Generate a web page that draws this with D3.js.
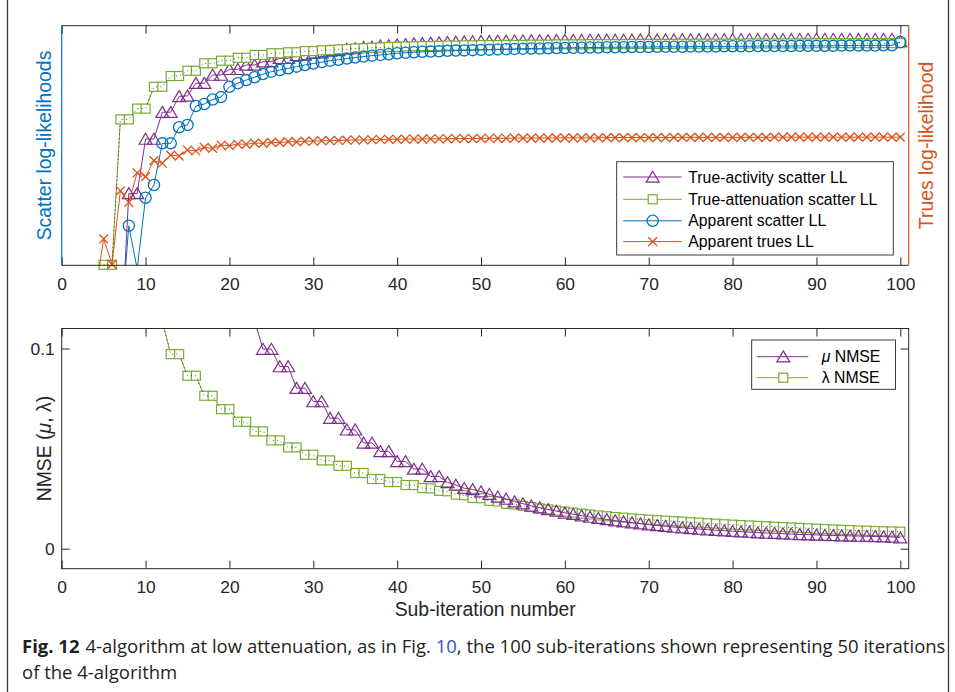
<!DOCTYPE html>
<html><head><meta charset="utf-8">
<script src="https://cdn.jsdelivr.net/npm/d3@7"></script>
<style>body{margin:0;background:#fff}</style>
</head><body>
<svg id="c" width="955" height="692"></svg>
<script>
// ---------- data ----------
const iterations = d3.range(1, 101);            // sub-iteration numbers 1..100
const xTicks = [0,10,20,30,40,50,60,70,80,90,100];
const xTickLabels = ["0","10","20","30","40","50","60","70","80","90","100"];
const nmseTicks = [0, 0.1];
const nmseTickLabels = ["0", "0.1"];

const topSeriesNames = ["True-activity scatter LL","True-attenuation scatter LL","Apparent scatter LL","Apparent trues LL"];
const bottomSeriesNames = ["\u03BC NMSE","\u03BB NMSE"];

// scatter log-likelihoods (relative units, axis has no tick labels)
const activityLL = [
 null,null,null,null,null,null,-37,30.0,30.0,52.7,
 52.7,63.9,63.9,70.5,70.7,76.0,76.0,79.4,79.4,81.8,
 81.8,83.6,83.6,85.0,85.0,86.4,86.4,87.6,87.8,88.5,
 88.7,89.5,89.7,90.3,90.5,91.0,91.1,91.6,91.7,92.1,
 92.2,92.5,92.6,92.8,92.9,93.1,93.2,93.3,93.4,93.5,
 93.5,93.6,93.6,93.7,93.7,93.8,93.8,93.8,93.9,93.9,
 93.9,93.9,94.0,94.0,94.0,94.0,94.0,94.1,94.1,94.1,
 94.1,94.1,94.1,94.2,94.2,94.2,94.2,94.2,94.2,94.2,
 94.3,94.3,94.3,94.3,94.3,94.3,94.3,94.3,94.4,94.4,
 94.4,94.4,94.4,94.4,94.4,94.4,94.4,94.4,94.4,93.4];
const attenuationLL = [
 null,null,null,null,0.2,0.2,60.9,60.9,65.4,65.4,
 74.5,74.5,79.0,79.0,81.2,81.2,84.3,84.3,85.4,85.4,
 86.6,86.6,87.8,87.8,88.5,88.5,88.9,88.9,89.4,89.4,
 89.7,89.8,90.1,90.2,90.5,90.6,90.8,90.9,91.1,91.2,
 91.3,91.4,91.5,91.5,91.6,91.7,91.7,91.8,91.8,91.9,
 91.9,91.9,92.0,92.0,92.0,92.1,92.1,92.1,92.2,92.2,
 92.2,92.2,92.3,92.3,92.3,92.3,92.3,92.4,92.4,92.4,
 92.4,92.4,92.4,92.5,92.5,92.5,92.5,92.5,92.5,92.5,
 92.5,92.6,92.6,92.6,92.6,92.6,92.6,92.6,92.6,92.7,
 92.7,92.7,92.7,92.7,92.7,92.7,92.7,92.7,92.7,92.7];
const apparentLL = [
 null,null,null,null,null,null,-28.6,16.5,-1.5,28.2,
 33.5,50.9,50.9,57.6,58.6,66.5,67.3,69.2,70.2,74.5,
 76.0,77.3,78.5,79.8,80.8,81.5,82.2,82.9,83.6,84.2,
 84.8,85.4,85.8,86.3,86.7,87.1,87.5,87.8,88.1,88.5,
 88.7,88.9,89.1,89.2,89.3,89.5,89.6,89.7,89.8,89.9,
 90.0,90.1,90.2,90.3,90.4,90.5,90.5,90.6,90.7,90.7,
 90.8,90.8,90.9,90.9,91.0,91.0,91.0,91.1,91.1,91.1,
 91.2,91.2,91.2,91.2,91.3,91.3,91.3,91.3,91.4,91.4,
 91.4,91.4,91.5,91.5,91.5,91.5,91.5,91.6,91.6,91.6,
 91.6,91.6,91.7,91.7,91.7,91.7,91.7,91.8,91.8,93.2];
// trues log-likelihood (right axis, relative units)
const truesLL = [
 null,null,null,-12,11.0,0.4,31.1,26.3,38.6,37.0,
 43.7,42.6,46.0,45.6,48.1,47.7,49.2,48.8,50.2,49.9,
 50.6,50.5,51.0,50.9,51.3,51.2,51.6,51.5,51.8,51.8,
 52.0,52.0,52.1,52.2,52.3,52.3,52.4,52.5,52.6,52.6,
 52.7,52.7,52.7,52.8,52.8,52.8,52.9,52.9,52.9,53.0,
 53.0,53.0,53.0,53.1,53.1,53.1,53.1,53.1,53.2,53.2,
 53.2,53.2,53.2,53.2,53.3,53.3,53.3,53.3,53.3,53.3,
 53.3,53.3,53.4,53.4,53.4,53.4,53.4,53.4,53.4,53.4,
 53.4,53.4,53.4,53.4,53.5,53.5,53.5,53.5,53.5,53.5,
 53.5,53.5,53.5,53.5,53.5,53.5,53.5,53.5,53.5,53.5];
// NMSE
const muNMSE = [
 null,null,null,null,null,null,null,null,null,null,
 null,null,null,null,null,null,null,null,null,0.125,
 0.125,0.114,0.114,0.0997,0.0997,0.0910,0.0910,0.0802,0.0802,0.0735,
 0.0735,0.0652,0.0652,0.0594,0.0594,0.0528,0.0528,0.0486,0.0486,0.0436,
 0.0436,0.0398,0.0398,0.0361,0.0361,0.0331,0.0318,0.0302,0.0296,0.0285,
 0.0272,0.0259,0.0248,0.0235,0.0225,0.0214,0.0205,0.0196,0.0188,0.0179,
 0.0172,0.0165,0.0158,0.0152,0.0146,0.0140,0.0135,0.0130,0.0125,0.0120,
 0.0116,0.0112,0.0108,0.0105,0.0101,0.0098,0.0095,0.0092,0.0090,0.0087,
 0.0085,0.0083,0.0080,0.0078,0.0077,0.0075,0.0073,0.0071,0.0070,0.0069,
 0.0067,0.0066,0.0065,0.0064,0.0063,0.0062,0.0061,0.0060,0.0059,0.0055];
const lambdaNMSE = [
 null,null,null,null,0.2,0.2,0.17,0.17,0.145,0.145,
 0.1136,0.1136,0.0972,0.0972,0.0864,0.0864,0.0764,0.0764,0.0697,0.0697,
 0.0634,0.0634,0.0586,0.0586,0.0541,0.0541,0.0506,0.0506,0.0469,0.0469,
 0.0441,0.0441,0.0414,0.0414,0.0378,0.0378,0.0348,0.0348,0.0333,0.0333,
 0.0318,0.0318,0.0303,0.0301,0.0289,0.0287,0.0270,0.0267,0.0254,0.0252,
 0.0239,0.0236,0.0224,0.0221,0.0214,0.0208,0.0201,0.0196,0.0190,0.0185,
 0.0180,0.0175,0.0171,0.0166,0.0162,0.0158,0.0155,0.0151,0.0148,0.0145,
 0.0142,0.0140,0.0137,0.0135,0.0132,0.0130,0.0127,0.0125,0.0122,0.0120,
 0.0118,0.0116,0.0114,0.0112,0.0110,0.0108,0.0106,0.0104,0.0102,0.0100,
 0.0098,0.0096,0.0094,0.0093,0.0091,0.0090,0.0088,0.0087,0.0086,0.0085];

// ---------- style ----------
const FONT = '"Liberation Sans", Arial, Helvetica, sans-serif';
const C = {blue:"#0072BD", orange:"#D95319", purple:"#7E2F8E", green:"#77AC30", axis:"#262626"};
const TICK_FS = 17.4, LABEL_FS = 19.4, LEG_FS = 15.8;

const svg = d3.select("#c");
const L = 61.7, R = 908.7;
const T1 = 25.7, B1 = 265.3, T2 = 328.5, B2 = 568.7;

const x = d3.scaleLinear().domain([0, 101]).range([L, R]);
const yTop = d3.scaleLinear().domain([0, 100]).range([B1, T1]);
const yTrues = d3.scaleLinear().domain([0, 100]).range([B1, T1]);
const yBot = d3.scaleLinear().domain([-0.01, 0.11]).range([B2, T2]);

const defs = svg.append("defs");
defs.append("clipPath").attr("id","clipTop").append("rect").attr("x",L).attr("y",T1).attr("width",R-L).attr("height",B1-T1);
defs.append("clipPath").attr("id","clipBot").append("rect").attr("x",L).attr("y",T2).attr("width",R-L).attr("height",B2-T2);

// marker drawing
function marker(g, type, cx, cy, color, fill, s) {
  s = s || 1;
  if (type === "tri") {
    g.append("path").attr("d", `M${cx},${cy-5.8*s} L${cx+6.5*s},${cy+5.2*s} L${cx-6.5*s},${cy+5.2*s} Z`)
     .attr("fill", fill).attr("stroke", color).attr("stroke-width", 1.2);
  } else if (type === "sq") {
    g.append("rect").attr("x", cx-4.5*s).attr("y", cy-4.5*s).attr("width", 9*s).attr("height", 9*s)
     .attr("fill", fill).attr("stroke", color).attr("stroke-width", 1.2);
  } else if (type === "circ") {
    g.append("circle").attr("cx", cx).attr("cy", cy).attr("r", 5.6*s)
     .attr("fill", fill).attr("stroke", color).attr("stroke-width", 1.3);
  } else if (type === "x") {
    const r = 4.4*s;
    g.append("path").attr("d", `M${cx-r},${cy-r} L${cx+r},${cy+r} M${cx-r},${cy+r} L${cx+r},${cy-r}`)
     .attr("stroke", color).attr("stroke-width", 1.3).attr("fill","none");
  }
}

function series(vals, yScale, color, type, fill, clipId, dotted) {
  const g = svg.append("g");
  const data = iterations.map((it, i) => ({x: it, v: vals[i]}));
  const line = d3.line().defined(d => d.v != null).x(d => x(d.x)).y(d => yScale(d.v));
  g.append("path").attr("clip-path", `url(#${clipId})`).attr("d", line(data))
   .attr("fill","none").attr("stroke", color).attr("stroke-width", 1);
  const [d0, d1] = yScale.domain();
  data.filter(d => d.v != null && d.v >= d0 && d.v <= d1)
      .forEach(d => marker(g, type, x(d.x), yScale(d.v), color, fill));
  if (dotted) {
    g.append("path").attr("clip-path", `url(#${clipId})`).attr("d", line(data))
     .attr("fill","none").attr("stroke","#000").attr("stroke-width",0.9)
     .attr("stroke-dasharray","1,3.2").attr("opacity",0.75);
  }
}

// ---------- top panel ----------
series(activityLL, yTop, C.purple, "tri", "none", "clipTop");
series(attenuationLL, yTop, C.green, "sq", "#fff", "clipTop", true);
series(apparentLL, yTop, C.blue, "circ", "none", "clipTop");
series(truesLL, yTrues, C.orange, "x", "none", "clipTop");

function styleAxis(g) {
  g.select(".domain").remove();
  g.selectAll(".tick line").attr("stroke", C.axis).attr("stroke-width", 1);
  g.selectAll(".tick text").attr("fill", C.axis).attr("font-size", TICK_FS).attr("font-family", FONT);
}
const fmtX = (d, i) => xTickLabels[i];

svg.append("g").attr("transform", `translate(0,${B1})`)
   .call(d3.axisBottom(x).tickValues(xTicks).tickFormat(fmtX).tickSizeInner(-8).tickSizeOuter(0).tickPadding(12))
   .call(styleAxis);
svg.append("g").attr("transform", `translate(0,${T1})`)
   .call(d3.axisTop(x).tickValues(xTicks).tickFormat("").tickSizeInner(-8).tickSizeOuter(0))
   .call(styleAxis);
// frame
svg.append("line").attr("x1",L).attr("x2",R).attr("y1",T1).attr("y2",T1).attr("stroke",C.axis).attr("stroke-width",1);
svg.append("line").attr("x1",L).attr("x2",R).attr("y1",B1).attr("y2",B1).attr("stroke",C.axis).attr("stroke-width",1);
svg.append("line").attr("x1",L).attr("x2",L).attr("y1",T1).attr("y2",B1).attr("stroke",C.blue).attr("stroke-width",1.2);
svg.append("line").attr("x1",R).attr("x2",R).attr("y1",T1).attr("y2",B1).attr("stroke",C.orange).attr("stroke-width",1.2);

svg.append("text").attr("transform", `translate(51,${(T1+B1)/2}) rotate(-90)`)
   .attr("text-anchor","middle").attr("font-family",FONT).attr("font-size",LABEL_FS)
   .attr("fill",C.blue).text("Scatter log-likelihoods");
svg.append("text").attr("transform", `translate(933,${(T1+B1)/2}) rotate(-90)`)
   .attr("text-anchor","middle").attr("font-family",FONT).attr("font-size",LABEL_FS)
   .attr("fill",C.orange).text("Trues log-likelihood");

// top legend
(function(){
  const g = svg.append("g");
  g.append("rect").attr("x",616.7).attr("y",161.7).attr("width",276.6).attr("height",93.3)
   .attr("fill","#fff").attr("stroke",C.axis).attr("stroke-width",0.9);
  const rows = [177, 199.3, 220.8, 241.6];
  const cols = [C.purple, C.green, C.blue, C.orange];
  const types = ["tri","sq","circ","x"];
  rows.forEach((yy, i) => {
    g.append("line").attr("x1",623.3).attr("x2",681.7).attr("y1",yy).attr("y2",yy).attr("stroke",cols[i]).attr("stroke-width",1);
    marker(g, types[i], 652.7, yy, cols[i], types[i]==="sq" ? "#fff" : "none");
    g.append("text").attr("x",688.3).attr("y",yy).attr("dy","0.36em").attr("font-family",FONT)
     .attr("font-size",LEG_FS).attr("fill","#000").text(topSeriesNames[i]);
  });
})();

// ---------- bottom panel ----------
series(lambdaNMSE, yBot, C.green, "sq", "#fff", "clipBot", true);
series(muNMSE, yBot, C.purple, "tri", "none", "clipBot");

svg.append("g").attr("transform", `translate(0,${B2})`)
   .call(d3.axisBottom(x).tickValues(xTicks).tickFormat(fmtX).tickSizeInner(-8).tickSizeOuter(0).tickPadding(12))
   .call(styleAxis);
svg.append("g").attr("transform", `translate(0,${T2})`)
   .call(d3.axisTop(x).tickValues(xTicks).tickFormat("").tickSizeInner(-8).tickSizeOuter(0))
   .call(styleAxis);
svg.append("g").attr("transform", `translate(${L},0)`)
   .call(d3.axisLeft(yBot).tickValues(nmseTicks).tickFormat((d,i)=>nmseTickLabels[i]).tickSizeInner(-8).tickSizeOuter(0).tickPadding(7))
   .call(styleAxis);
svg.append("g").attr("transform", `translate(${R},0)`)
   .call(d3.axisRight(yBot).tickValues(nmseTicks).tickFormat("").tickSizeInner(-8).tickSizeOuter(0))
   .call(styleAxis);
svg.append("rect").attr("x",L).attr("y",T2).attr("width",R-L).attr("height",B2-T2)
   .attr("fill","none").attr("stroke",C.axis).attr("stroke-width",1);

const yl = svg.append("text").attr("transform", `translate(51,${(T2+B2)/2}) rotate(-90)`)
   .attr("text-anchor","middle").attr("font-family",FONT).attr("font-size",LABEL_FS).attr("fill",C.axis);
yl.append("tspan").text("NMSE (");
yl.append("tspan").attr("font-style","italic").text("\u03BC");
yl.append("tspan").text(", \u03BB)");

svg.append("text").attr("x",(L+R)/2).attr("y",616).attr("text-anchor","middle")
   .attr("font-family",FONT).attr("font-size",LABEL_FS).attr("fill",C.axis).text("Sub-iteration number");

// bottom legend
(function(){
  const g = svg.append("g");
  g.append("rect").attr("x",751.7).attr("y",340).attr("width",143.8).attr("height",49.3)
   .attr("fill","#fff").attr("stroke",C.axis).attr("stroke-width",0.9);
  const rows = [356.7, 377.7];
  const cols = [C.purple, C.green];
  const types = ["tri","sq"];
  rows.forEach((yy, i) => {
    g.append("line").attr("x1",756.7).attr("x2",808.3).attr("y1",yy).attr("y2",yy).attr("stroke",cols[i]).attr("stroke-width",1);
    marker(g, types[i], 783.3, yy, cols[i], types[i]==="sq" ? "#fff" : "none");
    const t = g.append("text").attr("x",821.7).attr("y",yy).attr("dy","0.36em").attr("font-family",FONT)
     .attr("font-size",LEG_FS).attr("fill","#000");
    const parts = bottomSeriesNames[i].split(" ");
    t.append("tspan").attr("font-style", i===0 ? "italic" : "normal").text(parts[0]);
    t.append("tspan").text(" " + parts[1]);
  });
})();

// ---------- frame & caption ----------
svg.append("line").attr("x1",7.5).attr("x2",7.5).attr("y1",0).attr("y2",692).attr("stroke","#3a3a3a").attr("stroke-width",1.3);
svg.append("line").attr("x1",948.5).attr("x2",948.5).attr("y1",0).attr("y2",692).attr("stroke","#3a3a3a").attr("stroke-width",1.3);

const CAP_FONT = '"Open Sans", "Noto Sans", sans-serif';
const cap1 = svg.append("text").attr("x",22).attr("y",653).attr("font-family",CAP_FONT).attr("font-size",17).attr("fill","#231f20");
cap1.append("tspan").attr("font-weight","bold").text("Fig. 12");
cap1.append("tspan").attr("dx",6).text("4-algorithm at low attenuation, as in Fig. ");
cap1.append("tspan").attr("fill","#3355cc").text("10");
cap1.append("tspan").text(", the 100 sub-iterations shown representing 50 iterations");
const cap2 = svg.append("text").attr("x",22).attr("y",679).attr("font-family",CAP_FONT).attr("font-size",17).attr("fill","#231f20")
  .text("of the 4-algorithm");
const len = cap1.node().getComputedTextLength();
const fs = 17 * 918 / len;
cap1.attr("font-size", fs);
cap2.attr("font-size", fs);
</script>
</body></html>
